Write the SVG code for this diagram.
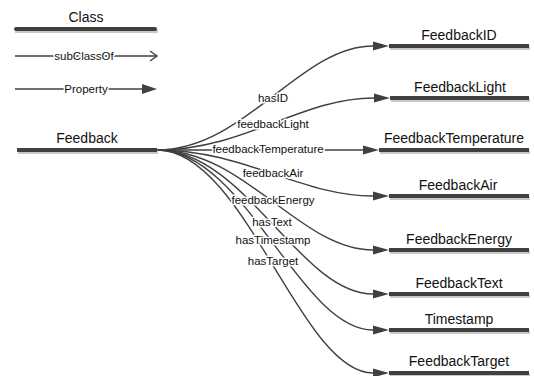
<svg xmlns="http://www.w3.org/2000/svg" width="534" height="376" viewBox="0 0 534 376">
<style>
.t{font-family:"Liberation Sans",Arial,sans-serif;font-size:14px;fill:#111;text-anchor:middle}
.l{font-family:"Liberation Sans",Arial,sans-serif;font-size:11.5px;fill:#111;text-anchor:middle;stroke:#fff;stroke-width:3;paint-order:stroke;stroke-linejoin:round}
.bar{fill:#404040}
.sh{fill:#c8c8c8}
.e{fill:none;stroke:#404040;stroke-width:1.4}
</style>
<defs>
<marker id="ah" markerUnits="userSpaceOnUse" markerWidth="18" markerHeight="12" refX="0" refY="5" orient="auto" overflow="visible">
<polygon points="0,0.5 16,5 0,9.5" fill="#404040"/>
</marker>
<g id="barshape"></g>
</defs>
<rect width="534" height="376" fill="#fff"/>

<g id="legend">
<text class="t" x="86" y="22">Class</text>
<rect class="sh" x="15" y="29.5" width="143" height="3.5"/>
<rect class="bar" x="14" y="27" width="143" height="4" rx="2"/>
<line class="e" x1="15" y1="56" x2="157" y2="56"/>
<polyline points="150,51 157,56 150,61" fill="none" stroke="#404040" stroke-width="1.4"/>
<text class="l" x="84" y="60">subClassOf</text>
<line class="e" x1="15" y1="89" x2="142" y2="89"/>
<polygon points="142,84 157,89 142,94" fill="#404040"/>
<text class="l" x="86" y="93">Property</text>
</g>

<g id="edges">
<path class="e" marker-end="url(#ah)" d="M157,150 C245,150 300,46 373,46"/>
<path class="e" marker-end="url(#ah)" d="M157,150 C245,150 300,98 374,98"/>
<path class="e" marker-end="url(#ah)" d="M157,150 L363,150"/>
<path class="e" marker-end="url(#ah)" d="M157,150 C245,150 300,196 373,196"/>
<path class="e" marker-end="url(#ah)" d="M157,150 C245,150 300,250 373,250"/>
<path class="e" marker-end="url(#ah)" d="M157,150 C245,150 300,294 373,294"/>
<path class="e" marker-end="url(#ah)" d="M157,150 C245,150 300,330 373,330"/>
<path class="e" marker-end="url(#ah)" d="M157,150 C245,150 300,373 373,373"/>
<text class="l" x="273" y="102">hasID</text>
<text class="l" x="273" y="128">feedbackLight</text>
<text class="l" x="268" y="153">feedbackTemperature</text>
<text class="l" x="273" y="177">feedbackAir</text>
<text class="l" x="273" y="204">feedbackEnergy</text>
<text class="l" x="272" y="226">hasText</text>
<text class="l" x="273" y="244">hasTimestamp</text>
<text class="l" x="273" y="265">hasTarget</text>
</g>

<g id="Feedback">
<text class="t" x="87" y="143">Feedback</text>
<rect class="sh" x="18" y="150.5" width="140" height="3.5"/>
<rect class="bar" x="17" y="148" width="140" height="4"/>
</g>

<g id="FeedbackID">
<text class="t" x="459" y="40">FeedbackID</text>
<rect class="sh" x="390" y="46.5" width="140" height="3.5"/>
<rect class="bar" x="389" y="44" width="140" height="4"/>
</g>
<g id="FeedbackLight">
<text class="t" x="460" y="92">FeedbackLight</text>
<rect class="sh" x="391" y="98.5" width="139" height="3.5"/>
<rect class="bar" x="390" y="96" width="139" height="4"/>
</g>
<g id="FeedbackTemperature">
<text class="t" x="454" y="143">FeedbackTemperature</text>
<rect class="sh" x="380" y="150.5" width="150" height="3.5"/>
<rect class="bar" x="379" y="148" width="150" height="4"/>
</g>
<g id="FeedbackAir">
<text class="t" x="458" y="190">FeedbackAir</text>
<rect class="sh" x="390" y="196.5" width="140" height="3.5"/>
<rect class="bar" x="389" y="194" width="140" height="4"/>
</g>
<g id="FeedbackEnergy">
<text class="t" x="459" y="244">FeedbackEnergy</text>
<rect class="sh" x="390" y="250.5" width="140" height="3.5"/>
<rect class="bar" x="389" y="248" width="140" height="4"/>
</g>
<g id="FeedbackText">
<text class="t" x="459" y="288">FeedbackText</text>
<rect class="sh" x="390" y="294.5" width="140" height="3.5"/>
<rect class="bar" x="389" y="292" width="140" height="4"/>
</g>
<g id="Timestamp">
<text class="t" x="459" y="324">Timestamp</text>
<rect class="sh" x="390" y="330.5" width="140" height="3.5"/>
<rect class="bar" x="389" y="328" width="140" height="4"/>
</g>
<g id="FeedbackTarget">
<text class="t" x="459" y="366">FeedbackTarget</text>
<rect class="sh" x="390" y="373.5" width="140" height="2.5"/>
<rect class="bar" x="389" y="371" width="140" height="4"/>
</g>
</svg>
